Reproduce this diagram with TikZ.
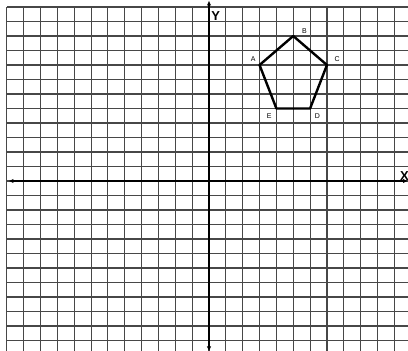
\documentclass[tikz,border=0pt]{standalone}
\usepackage{fontspec}
\setmainfont{Liberation Sans}
\usetikzlibrary{arrows.meta}
\begin{document}
\begin{tikzpicture}[x=16.85pt,y=14.5pt,
  gridline/.style={line width=1.1pt,black!72},
  axisline/.style={line width=1.6pt,black,{Latex[length=5pt,width=4.5pt]}-{Latex[length=5pt,width=4.5pt]}},
  pentline/.style={line width=2.4pt,black,line join=round},
  vlabel/.style={font=\fontsize{7}{7}\selectfont,inner sep=0pt},
  alabel/.style={font=\fontsize{13}{13}\selectfont\bfseries,inner sep=0pt}]
\useasboundingbox (-12.404,-11.724) rectangle (11.81,12.483);
\fill[white] (-12.404,-11.724) rectangle (11.81,12.483);
% grid
\foreach \i in {-12,...,11} \draw[gridline] (\i,12) -- (\i,-11.724);
\foreach \j in {-11,...,12} \draw[gridline] (-12,\j) -- (11.81,\j);
% axes
\coordinate (xl) at (-11.9,0);
\coordinate (xr) at (11.81,0);
\coordinate (yt) at (0,12.45);
\coordinate (yb) at (0,-11.75);
\draw[axisline] (xl) -- (xr);
\draw[axisline] (yb) -- (yt);
\node[alabel] (X) at (11.6,0.35) {X};
\node[alabel] (Y) at (0.4,11.4) {Y};
% pentagon
\coordinate (A) at (3,8);
\coordinate (B) at (5,10);
\coordinate (C) at (7,8);
\coordinate (D) at (6,5);
\coordinate (E) at (4,5);
\draw[pentline] (A) -- (B) -- (C) -- (D) -- (E) -- cycle;
\node[vlabel] (lA) at (2.63,8.4) {A};
\node[vlabel] (lB) at (5.66,10.35) {B};
\node[vlabel] (lC) at (7.6,8.4) {C};
\node[vlabel] (lD) at (6.43,4.48) {D};
\node[vlabel] (lE) at (3.57,4.45) {E};
\end{tikzpicture}
\end{document}
